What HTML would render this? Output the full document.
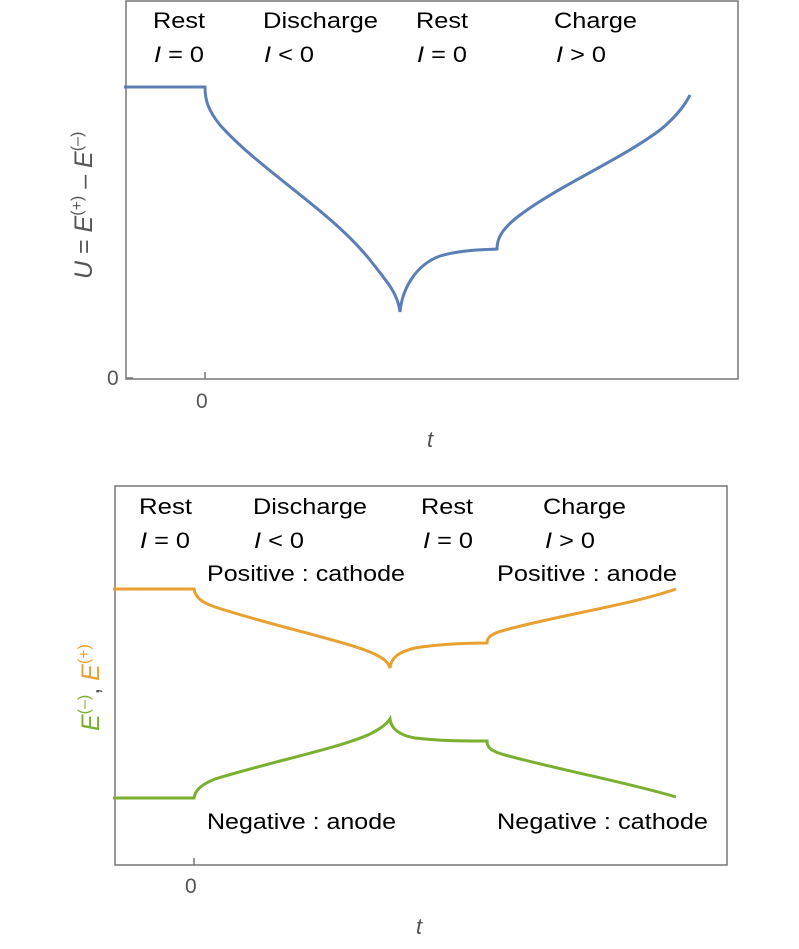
<!DOCTYPE html>
<html><head><meta charset="utf-8"><style>
body{margin:0;background:#fff;}
svg text{font-family:"Liberation Sans",sans-serif;}
</style></head><body>
<svg width="799" height="944" viewBox="0 0 799 944" xmlns="http://www.w3.org/2000/svg">
<!-- top chart -->
<rect x="126" y="1" width="612" height="378" fill="none" stroke="#777" stroke-width="1.5"/>
<line x1="205" y1="379" x2="205" y2="372" stroke="#777" stroke-width="1.5"/>
<line x1="126" y1="378" x2="133" y2="378" stroke="#777" stroke-width="1.5"/>
<text x="107" y="385" font-size="21" fill="#555">0</text>
<text x="196" y="408" font-size="21" fill="#555">0</text>
<text x="427" y="447" font-size="22" fill="#555" font-style="italic">t</text>
<g font-size="22" fill="#000" lengthAdjust="spacingAndGlyphs">
<text x="153" y="28" textLength="52" lengthAdjust="spacingAndGlyphs">Rest</text>
<text x="263" y="28" textLength="115" lengthAdjust="spacingAndGlyphs">Discharge</text>
<text x="416" y="28" textLength="52" lengthAdjust="spacingAndGlyphs">Rest</text>
<text x="554" y="28" textLength="83" lengthAdjust="spacingAndGlyphs">Charge</text>
<text x="154" y="62" textLength="50" lengthAdjust="spacingAndGlyphs"><tspan font-style="italic">I</tspan> = 0</text>
<text x="264" y="62" textLength="50" lengthAdjust="spacingAndGlyphs"><tspan font-style="italic">I</tspan> &lt; 0</text>
<text x="417" y="62" textLength="50" lengthAdjust="spacingAndGlyphs"><tspan font-style="italic">I</tspan> = 0</text>
<text x="556" y="62" textLength="50" lengthAdjust="spacingAndGlyphs"><tspan font-style="italic">I</tspan> &gt; 0</text>
</g>
<text transform="translate(92,279) rotate(-90)" font-size="25" fill="#555"><tspan font-style="italic">U</tspan> = <tspan font-style="italic">E</tspan><tspan dy="-10" font-size="16">(+)</tspan><tspan dy="10"> – </tspan><tspan font-style="italic">E</tspan><tspan dy="-10" font-size="16">(–)</tspan></text>
<path d="M124,87 L205,87 C205,100 208,110 220,125 C260,170 330,210 370,260 C390,285 398,295 400,312 C402,290 415,265 440,256 C460,250 480,250 497,249 C497,240 500,230 520,215 C560,185 620,160 660,130 C675,118 685,105 690,95" fill="none" stroke="#5b7fb5" stroke-width="3"/>
<!-- bottom chart -->
<rect x="115" y="486" width="612" height="379" fill="none" stroke="#777" stroke-width="1.5"/>
<line x1="194" y1="865" x2="194" y2="858" stroke="#777" stroke-width="1.5"/>
<text x="185" y="893" font-size="21" fill="#555">0</text>
<text x="416" y="934" font-size="22" fill="#555" font-style="italic">t</text>
<g font-size="22" fill="#000">
<text x="139" y="514" textLength="53" lengthAdjust="spacingAndGlyphs">Rest</text>
<text x="253" y="514" textLength="114" lengthAdjust="spacingAndGlyphs">Discharge</text>
<text x="421" y="514" textLength="52" lengthAdjust="spacingAndGlyphs">Rest</text>
<text x="543" y="514" textLength="83" lengthAdjust="spacingAndGlyphs">Charge</text>
<text x="140" y="548" textLength="50" lengthAdjust="spacingAndGlyphs"><tspan font-style="italic">I</tspan> = 0</text>
<text x="254" y="548" textLength="50" lengthAdjust="spacingAndGlyphs"><tspan font-style="italic">I</tspan> &lt; 0</text>
<text x="423" y="548" textLength="50" lengthAdjust="spacingAndGlyphs"><tspan font-style="italic">I</tspan> = 0</text>
<text x="545" y="548" textLength="50" lengthAdjust="spacingAndGlyphs"><tspan font-style="italic">I</tspan> &gt; 0</text>
<text x="207" y="581" textLength="198" lengthAdjust="spacingAndGlyphs">Positive : cathode</text>
<text x="497" y="581" textLength="180" lengthAdjust="spacingAndGlyphs">Positive : anode</text>
<text x="207" y="829" textLength="189" lengthAdjust="spacingAndGlyphs">Negative : anode</text>
<text x="497" y="829" textLength="211" lengthAdjust="spacingAndGlyphs">Negative : cathode</text>
</g>
<text transform="translate(99,731) rotate(-90)" font-size="25"><tspan fill="#7ab030" font-style="italic">E</tspan><tspan fill="#7ab030" dy="-10" font-size="16">(–)</tspan><tspan fill="#555" dy="10">, </tspan><tspan fill="#e8a030" font-style="italic">E</tspan><tspan fill="#e8a030" dy="-10" font-size="16">(+)</tspan></text>
<path d="M113,589 L194,589 C195,596 200,602 215,607 C270,625 340,640 370,652 C384,658 388,662 390,668 C391,658 398,652 415,648 C440,644 465,643 487,643 C487,638 490,634 505,630 C560,615 630,605 676,589" fill="none" stroke="#e8a030" stroke-width="3"/>
<path d="M113,798 L194,798 C195,791 200,785 215,779 C270,762 340,748 370,734 C384,727 388,722 390,719 C391,728 398,735 415,738 C440,741 465,741 487,741 C487,747 490,751 505,755 C560,770 630,783 676,797" fill="none" stroke="#7ab030" stroke-width="3"/>
</svg>
</body></html>
